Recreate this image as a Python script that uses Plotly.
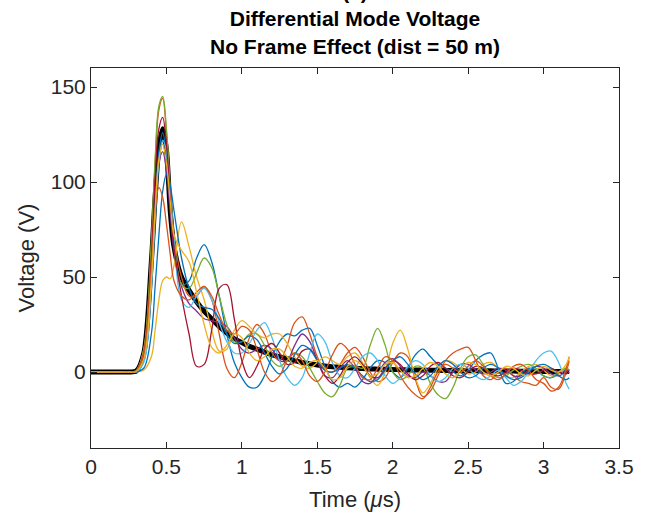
import plotly.graph_objects as go

# shared time axis (microseconds)
time_us = [0, 0.1, 0.2, 0.25, 0.3, 0.35, 0.4, 0.425, 0.45, 0.475, 0.5, 0.525, 0.55,
           0.6, 0.65, 0.7, 0.75, 0.8, 0.85, 0.9, 0.95, 1.0, 1.05, 1.1, 1.15, 1.2, 1.25,
           1.3, 1.35, 1.4, 1.45, 1.5, 1.55, 1.6, 1.65, 1.7, 1.75, 1.8, 1.85, 1.9, 1.95,
           2.0, 2.05, 2.1, 2.15, 2.2, 2.25, 2.3, 2.35, 2.4, 2.45, 2.5, 2.55, 2.6, 2.65,
           2.7, 2.75, 2.8, 2.85, 2.9, 2.95, 3.0, 3.05, 3.1, 3.15, 3.17]

reference_v = [0, 0, 0, 0, 0.5, 10, 58, 92, 118, 128, 117, 85, 66,
               50, 43, 37, 32, 28, 24, 20.5, 17.5, 15.5, 13.5, 12, 10.5, 9, 8,
               7, 6, 5, 4.3, 3.7, 3.2, 2.8, 2.5, 2.2, 2, 1.8, 1.6, 1.5, 1.4,
               1.3, 1.2, 1.1, 1.0, 1.0, 0.9, 0.9, 0.8, 0.8, 0.7, 0.7, 0.6, 0.6, 0.6,
               0.5, 0.5, 0.5, 0.4, 0.4, 0.4, 0.3, 0.3, 0.3, 0.3, 0.3]

blue_a = [0, 0, 0, 0, 0.3, 6, 50, 88, 116, 126, 114, 88, 66,
          46, 48, 60, 67, 58, 40, 20, 5, -3, -8, -8, -2, 8, 16,
          20, 19, 22, 23, 14, 3, -5, -8, -6, -8, -4, 2, 6, 5,
          0, -3, 2, 9, 12, 8, 4, 2, 0, -2, 1, 6, 9, 10,
          2, -6, -5, -1, 2, 1, -2, -3, -1, 1, 1]

orange_a = [0, 0, 0, 0, 0.8, 12, 66, 110, 138, 144, 126, 96, 72,
            50, 40, 40, 45, 38, 20, 2, -3, 5, 18, 25, 20, 10, 6,
            14, 26, 29, 20, 8, 1, 0, 4, 10, 13, 8, 0, -5, -3,
            5, 10, 8, -4, -13, -10, -2, 6, 10, 12, 13, 6, -2, -4,
            0, 2, -2, -5, -6, -7, -3, -8, -9, 0, 6]

yellow_a = [0, 0, 0, 0, 0, 1, 8, 22, 38, 48, 50, 49, 56,
            79, 66, 50, 38, 22, 11, 12, 22, 27, 24, 20, 18, 20, 20,
            15, 8, 3, 2, 5, 8, 6, 4, 8, 10, 5, -3, -7, 0,
            15, 22, 12, -3, -11, -6, 2, 6, 5, 2, -1, 0, 4, 5,
            2, -2, -3, 0, 3, 4, 1, -2, -1, 2, 1]

purple = [0, 0, 0, 0, 0.4, 8, 52, 88, 110, 116, 106, 84, 64,
          45, 36, 32, 28, 27, 26, 24, 18, 12, 10, 12, 14, 12, 6,
          6, 14, 20, 16, 6, -2, -3, 2, 6, 2, -5, -6, -1, 5,
          7, 3, -2, -3, 0, -2, -5, -5, 0, 4, 4, 1, -1, 0,
          2, 1, -2, -2, 1, 3, 2, -1, -2, 0, 1]

green = [0, 0, 0, 0, 0.8, 12, 68, 112, 140, 145, 128, 96, 70,
         46, 44, 52, 60, 55, 40, 25, 16, 16, 20, 20, 14, 6, 3,
         6, 10, 8, 2, -5, -11, -13, -7, 2, 3, 2, 14, 23, 14,
         0, -4, -2, 3, 2, -6, -12, -14, -8, 2, 8, 9, 4, -1,
         -3, -2, 1, 3, 4, 2, -2, -3, 0, 2, 1]

light_blue = [0, 0, 0, 0, 0.2, 5, 44, 80, 110, 122, 116, 94, 70,
              38, 34, 40, 44, 38, 26, 16, 10, 10, 15, 22, 26, 18, 6,
              -3, -7, -3, 10, 20, 16, 5, -2, -3, 2, 8, 10, 6, -2,
              -6, -3, 3, 6, 4, -2, -5, -3, 2, 4, 2, -2, -4, -2,
              1, -3, -7, -5, 0, 6, 10, 11, 5, -6, -9]

dark_red = [0, 0, 0, 0, 0.6, 10, 60, 102, 128, 134, 120, 92, 66,
            40, 20, 3, 4, 22, 44, 46, 28, 6, -3, 3, 12, 15, 10,
            4, 5, 11, 12, 6, -2, -6, -2, 5, 8, 4, -2, -3, 2,
            6, 4, -1, -4, -2, 3, 5, 2, -2, -3, 0, 3, 2, -1,
            -2, 0, 2, 1, -1, -1, 1, 2, 0, -1, 0]

blue_b = [0, 0, 0, 0, 0, 2, 20, 45, 72, 95, 104, 98, 85,
          60, 44, 36, 34, 33, 28, 20, 15, 16, 19, 17, 10, 3, -1,
          2, 9, 14, 12, 6, 1, 0, 2, 4, 2, -2, -5, -4, 1,
          6, 8, 4, -1, -4, -2, 3, 6, 4, 0, -3, -2, 2, 4,
          2, -2, -4, -3, 0, 3, 4, 2, -2, -4, -3]

orange_b = [0, 0, 0, 0, 0.5, 10, 55, 85, 97, 92, 78, 62, 48,
            40, 38, 42, 45, 40, 30, 22, 20, 24, 22, 12, 0, -5, -2,
            6, 10, 6, -2, -5, 0, 9, 15, 12, 4, -3, -4, 2, 8,
            6, -2, -8, -12, -14, -8, 0, 4, 2, 0, 3, 6, 3, -2,
            -4, -1, 3, 4, 1, -4, -6, -10, -8, 2, 8]

yellow_b = [0, 0, 0, 0, 0.3, 7, 48, 85, 112, 120, 110, 90, 72,
            64, 58, 42, 25, 13, 10, 14, 20, 18, 10, 6, 8, 12, 12,
            8, 3, 2, 5, 6, 2, -4, -3, 3, 6, 3, -2, -1, 4,
            5, 1, -3, -2, 2, 5, 3, -1, -3, 1, 5, 4, 0, -2,
            0, 3, 2, -1, -2, 1, 3, 1, 0, 4, 8]

series = [
    (blue_a, "#0072BD"), (orange_a, "#D95319"), (yellow_a, "#EDB120"),
    (purple, "#7E2F8E"), (green, "#77AC30"), (light_blue, "#4DBEEE"),
    (dark_red, "#A2142F"), (blue_b, "#0072BD"), (orange_b, "#D95319"),
    (yellow_b, "#EDB120"),
]

title_lines = ["(a)", "Differential Mode Voltage", "No Frame Effect (dist = 50 m)"]

fig = go.Figure()
fig.add_trace(go.Scatter(x=time_us, y=reference_v, mode="lines",
                         line=dict(color="black", width=5, shape="spline", smoothing=0.8),
                         showlegend=False, hoverinfo="skip"))
for vals, col in series:
    fig.add_trace(go.Scatter(x=time_us, y=vals, mode="lines",
                             line=dict(color=col, width=1.3, shape="spline", smoothing=1.0),
                             showlegend=False, hoverinfo="skip"))

font_fam = "Arial, Liberation Sans, Helvetica, sans-serif"
axis_common = dict(showline=True, linecolor="#262626", linewidth=1, mirror="ticks",
                   ticks="inside", ticklen=6, tickcolor="#262626", showgrid=False,
                   zeroline=False, tickfont=dict(size=21, color="#262626", family=font_fam))

fig.update_layout(
    width=646, height=520,
    margin=dict(l=91, r=17, t=68, b=72),
    paper_bgcolor="white", plot_bgcolor="white",
    xaxis=dict(range=[0, 3.5], tickvals=[0, 0.5, 1, 1.5, 2, 2.5, 3, 3.5],
               ticktext=["0", "0.5", "1", "1.5", "2", "2.5", "3", "3.5"],
               title=dict(text="Time (<i>μ</i>s)", font=dict(size=22, color="#262626", family=font_fam),
                          standoff=14),
               **axis_common),
    yaxis=dict(range=[-40, 160], tickvals=[0, 50, 100, 150],
               title=dict(text="Voltage (V)", font=dict(size=22, color="#262626", family=font_fam),
                          standoff=10),
               **axis_common),
)
fig.add_annotation(text="<b>" + "<br>".join(title_lines) + "</b>",
                   xref="paper", yref="paper", x=0.5, y=1, xanchor="center", yanchor="bottom",
                   yshift=8, showarrow=False, align="center",
                   font=dict(size=21, color="black", family=font_fam))

fig.write_html("out.html")
